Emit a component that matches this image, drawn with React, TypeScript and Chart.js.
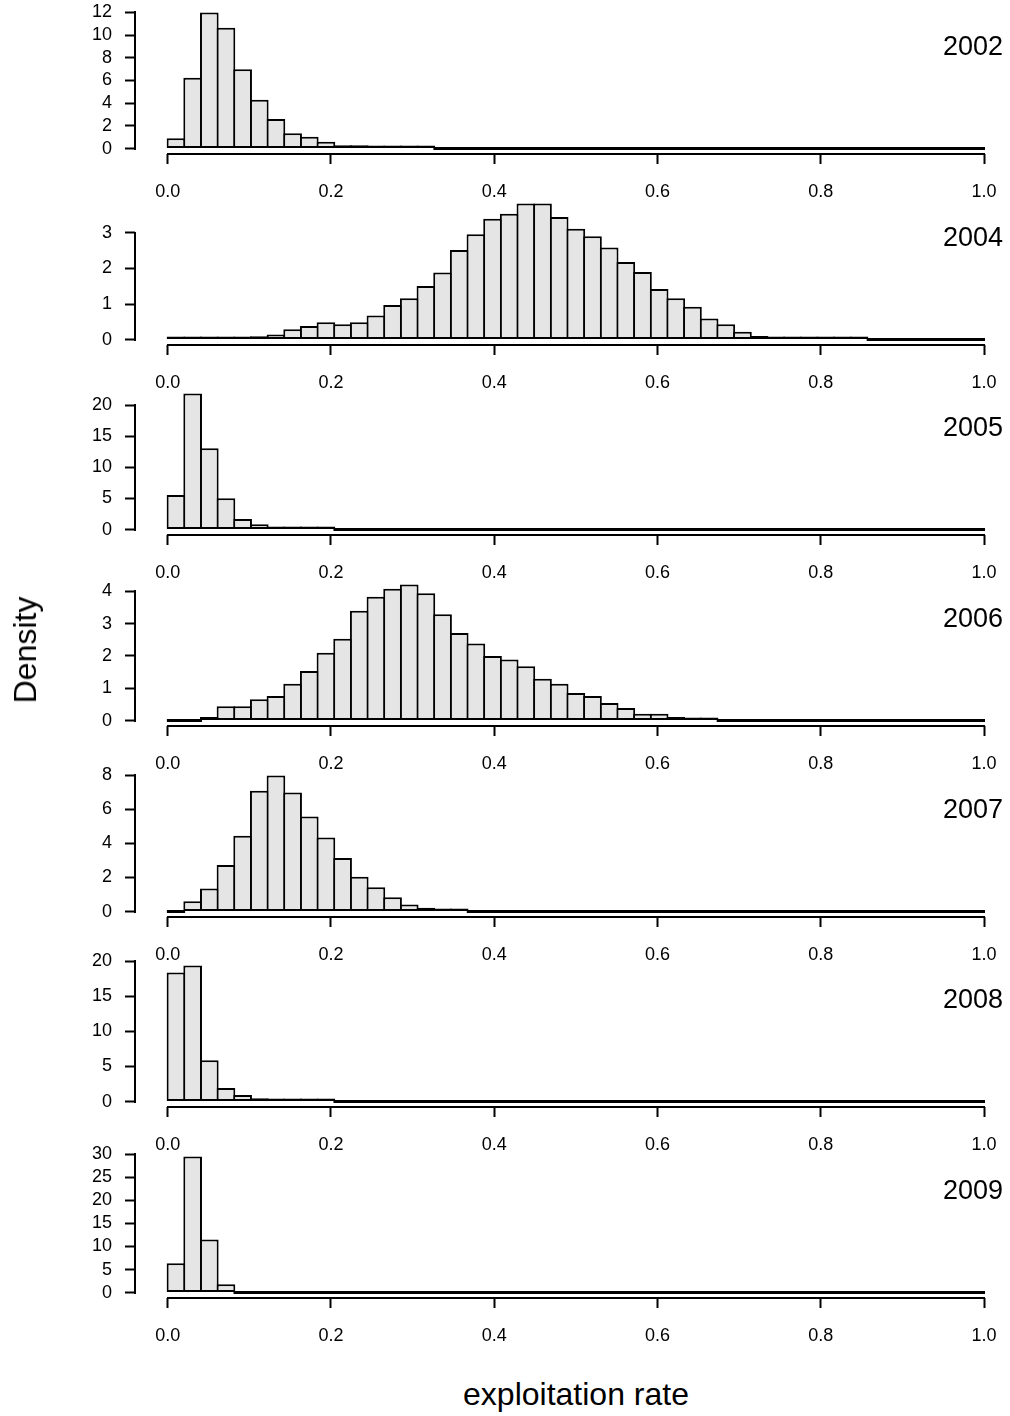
import React, { useEffect, useRef } from 'react';
import Chart from 'chart.js/auto';

// histogram breaks: seq(0, 1, length = 50) -> 49 bins
const nBins = 49;
const binMids = Array.from({ length: nBins }, (_, i) => (i + 0.5) / nBins);
const xTicks = [0, 0.2, 0.4, 0.6, 0.8, 1.0];

const years = ['2002', '2004', '2005', '2006', '2007', '2008', '2009'];

const density2002 = [
  0.9, 6.25, 12.0, 10.65, 7.0, 4.3, 2.6, 1.35, 1.05, 0.6,
  0.3, 0.3, 0.15, 0.15, 0.15, 0.12, 0, 0, 0, 0,
  0, 0, 0, 0, 0, 0, 0, 0, 0, 0,
  0, 0, 0, 0, 0, 0, 0, 0, 0, 0,
  0, 0, 0, 0, 0, 0, 0, 0, 0,
];
const density2004 = [
  0.003, 0.005, 0.005, 0.03, 0.03, 0.09, 0.14, 0.29, 0.38, 0.49,
  0.43, 0.49, 0.68, 0.97, 1.16, 1.51, 1.89, 2.52, 2.96, 3.4,
  3.54, 3.83, 3.83, 3.45, 3.12, 2.91, 2.59, 2.18, 1.9, 1.42,
  1.16, 0.92, 0.59, 0.43, 0.22, 0.1, 0.05, 0.04, 0.02, 0.02,
  0.01, 0.01, 0, 0, 0, 0, 0, 0, 0,
];
const density2005 = [
  5.56, 21.9, 13.1, 5.03, 1.71, 0.86, 0.32, 0.32, 0.27, 0.1,
  0, 0, 0, 0, 0, 0, 0, 0, 0, 0,
  0, 0, 0, 0, 0, 0, 0, 0, 0, 0,
  0, 0, 0, 0, 0, 0, 0, 0, 0, 0,
  0, 0, 0, 0, 0, 0, 0, 0, 0,
];
const density2006 = [
  0, 0, 0.11, 0.44, 0.44, 0.66, 0.76, 1.14, 1.53, 2.1,
  2.53, 3.4, 3.83, 4.08, 4.21, 3.94, 3.29, 2.71, 2.38, 2.0,
  1.89, 1.68, 1.29, 1.14, 0.85, 0.76, 0.54, 0.39, 0.21, 0.21,
  0.11, 0.07, 0.07, 0, 0, 0, 0, 0, 0, 0,
  0, 0, 0, 0, 0, 0, 0, 0, 0,
];
const density2007 = [
  0, 0.61, 1.35, 2.74, 4.46, 7.1, 8.0, 7.0, 5.58, 4.36,
  3.15, 2.04, 1.43, 0.84, 0.41, 0.23, 0.12, 0.12, 0, 0,
  0, 0, 0, 0, 0, 0, 0, 0, 0, 0,
  0, 0, 0, 0, 0, 0, 0, 0, 0, 0,
  0, 0, 0, 0, 0, 0, 0, 0, 0,
];
const density2008 = [
  18.43, 19.43, 5.9, 1.95, 0.95, 0.48, 0.24, 0.24, 0.24, 0.1,
  0, 0, 0, 0, 0, 0, 0, 0, 0, 0,
  0, 0, 0, 0, 0, 0, 0, 0, 0, 0,
  0, 0, 0, 0, 0, 0, 0, 0, 0, 0,
  0, 0, 0, 0, 0, 0, 0, 0, 0,
];
const density2009 = [
  6.36, 29.57, 11.5, 1.81, 0, 0, 0, 0, 0, 0,
  0, 0, 0, 0, 0, 0, 0, 0, 0, 0,
  0, 0, 0, 0, 0, 0, 0, 0, 0, 0,
  0, 0, 0, 0, 0, 0, 0, 0, 0, 0,
  0, 0, 0, 0, 0, 0, 0, 0, 0,
];

const yTicks2002 = [0, 2, 4, 6, 8, 10, 12];
const yTicks2004 = [0, 1, 2, 3];
const yTicks2005 = [0, 5, 10, 15, 20];
const yTicks2006 = [0, 1, 2, 3, 4];
const yTicks2007 = [0, 2, 4, 6, 8];
const yTicks2008 = [0, 5, 10, 15, 20];
const yTicks2009 = [0, 5, 10, 15, 20, 25, 30];

const allDensities = [density2002, density2004, density2005, density2006, density2007, density2008, density2009];
const allYTicks = [yTicks2002, yTicks2004, yTicks2005, yTicks2006, yTicks2007, yTicks2008, yTicks2009];

const FONT = "'Liberation Sans', Arial, Helvetica, sans-serif";
const PANEL_PITCH = 190.67;
const CANVAS_H = 215;

interface HistPanelProps {
  year: string;
  values: number[];
  yTicks: number[];
  index: number;
}

const HistPanel: React.FC<HistPanelProps> = ({ year, values, yTicks, index }) => {
  const canvasRef = useRef<HTMLCanvasElement>(null);

  useEffect(() => {
    if (!canvasRef.current) return;
    const peak = Math.max(...values);

    // R style axes (line only over the tick range) + year label
    const panelPlugin = {
      id: 'rPanel',
      afterDraw(chart: any) {
        const { ctx, chartArea, scales } = chart;
        const xs = scales.x;
        const ys = scales.y;
        const xAxisY = Math.round(chartArea.bottom);
        const yAxisX = Math.round(chartArea.left);
        ctx.save();
        ctx.strokeStyle = '#000';
        ctx.lineWidth = 2;
        ctx.lineCap = 'square';
        ctx.beginPath();
        ctx.moveTo(Math.round(xs.getPixelForValue(xTicks[0])), xAxisY);
        ctx.lineTo(Math.round(xs.getPixelForValue(xTicks[xTicks.length - 1])), xAxisY);
        ctx.moveTo(yAxisX, Math.round(ys.getPixelForValue(yTicks[0])));
        ctx.lineTo(yAxisX, Math.round(ys.getPixelForValue(yTicks[yTicks.length - 1])));
        ctx.stroke();
        ctx.fillStyle = '#000';
        ctx.font = `27px ${FONT}`;
        ctx.textAlign = 'right';
        ctx.textBaseline = 'alphabetic';
        ctx.fillText(year, chart.width - 7, chartArea.top + 48);
        ctx.restore();
      },
    };

    const chart = new Chart(canvasRef.current, {
      type: 'bar',
      data: {
        datasets: [{
          data: values.map((v, i) => ({ x: binMids[i], y: v })),
          backgroundColor: '#e5e5e5',
          borderColor: '#000',
          borderWidth: 2,
          borderSkipped: false,
          inflateAmount: 0,
          minBarLength: 3,
          barPercentage: 1.12,
          categoryPercentage: 1,
        }],
      },
      options: {
        animation: false,
        responsive: true,
        maintainAspectRatio: false,
        layout: { padding: { top: 7, left: 0, right: 0, bottom: 0 } },
        plugins: {
          legend: { display: false },
          tooltip: { enabled: false },
        },
        scales: {
          x: {
            type: 'linear',
            offset: false,
            min: -0.04,
            max: 1.0318,
            afterBuildTicks: (s: any) => { s.ticks = xTicks.map(v => ({ value: v })); },
            afterFit: (s: any) => {
              s.height = CANVAS_H - 154;
              s.paddingLeft = 0;
              s.paddingRight = 0;
            },
            grid: { offset: false, drawOnChartArea: false, drawTicks: true, tickLength: 10, tickWidth: 2, tickColor: '#000' },
            border: { display: false },
            ticks: {
              color: '#000',
              font: { family: FONT, size: 18 },
              padding: 17,
              maxRotation: 0,
              autoSkip: false,
              callback: (v: any) => Number(v).toFixed(1),
            },
          },
          y: {
            type: 'linear',
            min: -0.04 * peak,
            max: 1.04 * peak,
            afterBuildTicks: (s: any) => { s.ticks = yTicks.map(v => ({ value: v })); },
            afterFit: (s: any) => {
              s.width = 135;
              s.paddingTop = 0;
              s.paddingBottom = 0;
            },
            grid: { offset: false, drawOnChartArea: false, drawTicks: true, tickLength: 10, tickWidth: 2, tickColor: '#000' },
            border: { display: false },
            ticks: {
              color: '#000',
              font: { family: FONT, size: 18 },
              padding: 13,
              autoSkip: false,
              callback: (v: any) => String(v),
            },
          },
        },
      },
      plugins: [panelPlugin],
    } as any);

    return () => chart.destroy();
  }, [year, values, yTicks]);

  return (
    <div style={{ position: 'absolute', left: 0, top: Math.round(index * PANEL_PITCH), width: 1010, height: CANVAS_H }}>
      <canvas ref={canvasRef}></canvas>
    </div>
  );
};

const App: React.FC = () => {
  return (
    <div style={{ position: 'absolute', left: 0, top: 0, width: 1010, height: 1416, background: '#fff', overflow: 'hidden', fontFamily: FONT }}>
      {years.map((yr, i) => (
        <HistPanel key={yr} year={yr} values={allDensities[i]} yTicks={allYTicks[i]} index={i} />
      ))}
      <div style={{ position: 'absolute', left: 25, top: 650, transform: 'translate(-50%, -50%) rotate(-90deg)', fontSize: 32, lineHeight: 1, whiteSpace: 'nowrap', color: '#000' }}>
        Density
      </div>
      <div style={{ position: 'absolute', left: 576, top: 1394, transform: 'translate(-50%, -50%)', fontSize: 32, lineHeight: 1, whiteSpace: 'nowrap', color: '#000' }}>
        exploitation rate
      </div>
    </div>
  );
};

export default App;
